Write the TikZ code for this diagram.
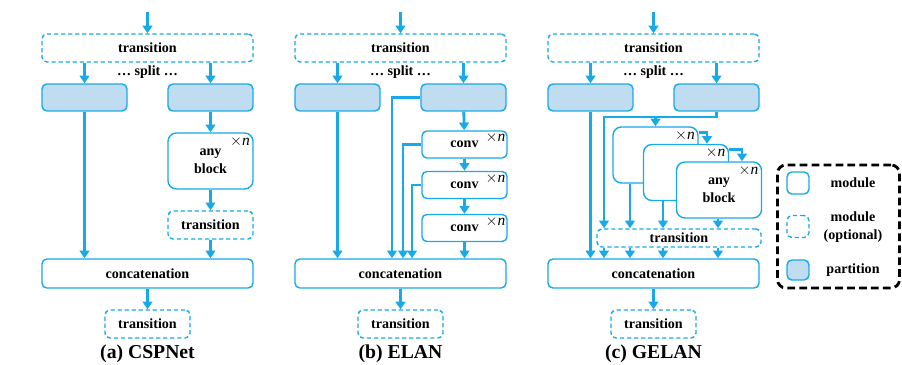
\documentclass[tikz,border=0pt]{standalone}
\usepackage{fontspec}
\setmainfont{Liberation Serif}
\usetikzlibrary{arrows.meta}
\definecolor{vblue}{HTML}{18AAE8}
\definecolor{vpart}{HTML}{BFDCF0}
\newcommand{\xn}{$\times$\textmd{\textit{n}}}

\begin{document}
\begin{tikzpicture}[x=0.025cm,y=-0.025cm,font=\bfseries\fontsize{10}{13}\selectfont,
  mod/.style={draw=vblue,line width=1pt,rounded corners=3.5pt,fill=white,inner sep=0pt,align=center},
  opt/.style={mod,dash pattern=on 3pt off 2pt},
  part/.style={mod,fill=vpart},
  wide/.style={minimum width=5.275cm,minimum height=0.7cm},
  narrow/.style={minimum width=2.125cm,minimum height=0.675cm},
  blk/.style={mod,rounded corners=6pt,minimum width=2.125cm,minimum height=1.4cm},
  times/.style={anchor=north east,inner sep=2.5pt,font=\fontsize{11}{11}\selectfont},
  conn/.style={draw=vblue,line width=2pt,-{Triangle[width=7pt,length=5.5pt]}}]
  \useasboundingbox (0,0) rectangle (902,365);
  % ---- frame shared by the three panels ----
  \foreach \p/\ox/\name in {a/0/CSPNet,b/253/ELAN,c/506/GELAN}{
    \coordinate (\p in) at ({\ox+147.5},12);
    \node[opt,wide] (\p top) at ({\ox+147.5},48) {transition};
    \node at ({\ox+147.5},72) {\ldots\ split \ldots};
    \node[part,narrow] (\p l) at ({\ox+84.5},97.5) {};
    \node[part,narrow] (\p r) at ({\ox+210.5},97.5) {};
    \node[mod,wide,minimum height=0.725cm] (\p cat) at ({\ox+147.5},273.5) {concatenation};
    \node[opt,narrow,minimum height=0.7cm] (\p out) at ({\ox+147.5},324) {transition};
    \node[font=\bfseries\fontsize{14}{15}\selectfont] at ({\ox+147.5},354) {(\p) \name};
    \draw[conn] (\p in) -- (\p top);
    \draw[conn] (\p top.south -| \p l) -- (\p l);
    \draw[conn] (\p top.south -| \p r) -- (\p r);
    \draw[conn] (\p l) -- (\p l |- \p cat.north);
    \draw[conn] (\p cat) -- (\p out);
  }
  % ---- (a) CSPNet ----
  \node[blk] (ablk) at (210.5,161) {any\\block};
  \node[times] at (ablk.north east) {\xn};
  \node[opt,narrow,minimum height=0.7cm] (atr) at (210.5,225) {transition};
  \draw[conn] (ar) -- (ablk);
  \draw[conn] (ablk) -- (atr);
  \draw[conn] (atr) -- (atr |- acat.north);
  % ---- (b) ELAN ----
  \node[mod,narrow] (bc1) at (464.5,144.5) {conv};
  \node[mod,narrow] (bc2) at (464.5,185) {conv};
  \node[mod,narrow] (bc3) at (464.5,228) {conv};
  \foreach \c in {bc1,bc2,bc3} \node[times,inner sep=1.5pt] at (\c.north east) {\xn};
  \draw[conn] (br) -- (bc1);
  \draw[conn] (bc1) -- (bc2);
  \draw[conn] (bc2) -- (bc3);
  \draw[conn] (bc3) -- (bc3 |- bcat.north);
  \foreach \s/\x in {br/392,bc1/403,bc2/412}{
    \coordinate (\s k) at (\x,0);
    \draw[conn] (\s.west) -| (\s k |- bcat.north);
  }
  % ---- (c) GELAN ----
  \node[blk] (cb1) at (655.5,155) {};
  \node[blk] (cb2) at (686,172.5) {};
  \node[blk] (cb3) at (719,190) {any\\block};
  \foreach \c in {cb1,cb2,cb3} \node[times] at (\c.north east) {\xn};
  \node[opt,minimum width=4.1cm,minimum height=0.45cm] (ctr) at (679,238) {transition};
  \foreach \n/\x in {1/604,2/630,3/663,4/718} \coordinate (cx\n) at (\x,0);
  \coordinate (ck) at (604,117);
  \draw[conn] (cr.south) |- (ck) -- (ck |- ctr.north);
  \draw[conn] (cb1.north |- ck) -- (cb1);
  \draw[conn] ([yshift=-0.15cm]cb1.north east) -| ([xshift=0.525cm]cb2.north);
  \draw[conn] ([yshift=-0.15cm]cb2.north east) -| ([xshift=0.575cm]cb3.north);
  \draw[conn] (cb1.south -| cx2) -- (ctr.north -| cx2);
  \draw[conn] (cb2.south -| cx3) -- (ctr.north -| cx3);
  \draw[conn] (cb3.south -| cx4) -- (ctr.north -| cx4);
  \foreach \n in {1,...,4} \draw[conn] (ctr.south -| cx\n) -- (ccat.north -| cx\n);
  % ---- legend ----
  \node[draw=black,line width=2pt,dash pattern=on 5.5pt off 3pt,rounded corners=6pt,
        minimum width=3.05cm,minimum height=3.075cm] (leg) at (838.5,226.5) {};
  \node[mod,minimum size=0.55cm] (lm) at (798,183) {};
  \node[opt,minimum size=0.55cm] (lo) at (798,226.5) {};
  \node[part,minimum width=0.55cm,minimum height=0.5cm] (lp) at (798,270) {};
  \node (lmt) at (853,183) {module};
  \node[align=center] (lot) at (853,227) {module\\(optional)};
  \node (lpt) at (853,270) {partition};
\end{tikzpicture}
\end{document}
